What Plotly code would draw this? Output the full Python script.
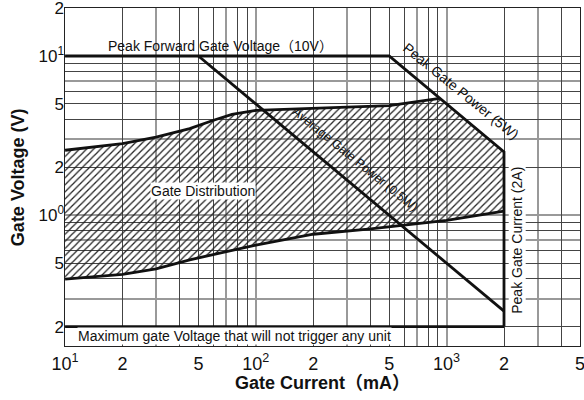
import plotly.graph_objects as go
import numpy as np

# ---- data (mA, V) ----
upper_i = [10, 20, 30, 45, 60, 75, 100, 200, 500, 920]
upper_v = [2.56, 2.82, 3.1, 3.5, 3.95, 4.3, 4.55, 4.7, 4.88, 5.42]
lower_i = [10, 20, 30, 45, 100, 200, 400, 600, 1000, 2000]
lower_v = [0.397, 0.426, 0.46, 0.525, 0.65, 0.76, 0.82, 0.87, 0.93, 1.06]

peak_fwd_v = 10.0        # V
peak_power_w = 5.0       # W
avg_power_w = 0.5        # W
peak_current_ma = 2000   # mA
max_nontrig_v = 0.2      # V
x_start = 10

x_tickvals = [10, 20, 50, 100, 200, 500, 1000, 2000, 5000]
x_ticktext = ["10<sup>1</sup>", "2", "5", "10<sup>2</sup>", "2", "5", "10<sup>3</sup>", "2", "5"]
y_tickvals = [0.2, 0.5, 1, 2, 5, 10, 20]
y_ticktext = ["2", "5", "10<sup>0</sup>", "2", "5", "10<sup>1</sup>", "2"]

# gridline values
x_dark = [20, 40, 50, 60, 80, 90, 200, 400, 500, 600, 800, 900, 2000, 4000]
x_gray = [30, 70, 100, 300, 700, 1000, 3000]
y_dark = [0.2, 0.4, 0.5, 0.6, 0.8, 0.9, 2, 4, 5, 6, 8, 9, 10, 20]
y_gray = [0.3, 0.7, 1, 3, 7]

FONT = "Liberation Sans, Arial, Noto Sans CJK JP"
XR = [0.9995, np.log10(5000) + 0.0005]
YR = [-0.821, 1.3015]

fig = go.Figure()

# Gate distribution region (hatched)
poly_i = upper_i + [peak_current_ma, peak_current_ma] + lower_i[::-1] + [x_start]
poly_v = upper_v + [peak_power_w / (peak_current_ma / 1000), lower_v[-1]] + lower_v[::-1] + [upper_v[0]]
fig.add_trace(go.Scatter(
    x=poly_i, y=poly_v, mode="lines", fill="toself",
    line=dict(width=0), fillcolor="rgba(0,0,0,0)",
    fillpattern=dict(shape="/", size=5, solidity=0.25, fgcolor="#222",
                     bgcolor="rgba(255,255,255,0)", fillmode="replace"),
    hoverinfo="skip", showlegend=False))

LW = 2.8
blk = dict(color="#111", width=LW)
fig.add_trace(go.Scatter(x=upper_i, y=upper_v, mode="lines", line=blk, showlegend=False))
fig.add_trace(go.Scatter(x=lower_i, y=lower_v, mode="lines", line=blk, showlegend=False))

i_pf_end = peak_power_w / peak_fwd_v * 1000
fig.add_trace(go.Scatter(
    x=[x_start, i_pf_end, peak_current_ma, peak_current_ma],
    y=[peak_fwd_v, peak_fwd_v, peak_power_w / (peak_current_ma / 1000), max_nontrig_v],
    mode="lines", line=blk, showlegend=False))
fig.add_trace(go.Scatter(x=[x_start, peak_current_ma], y=[max_nontrig_v, max_nontrig_v],
                         mode="lines", line=blk, showlegend=False))
i_avg = [avg_power_w / peak_fwd_v * 1000, peak_current_ma]
fig.add_trace(go.Scatter(x=i_avg, y=[avg_power_w / (i / 1000) for i in i_avg],
                         mode="lines", line=blk, showlegend=False))

ann = []
def A(text, x, y, angle=0, xanchor="center", bg=None, size=14):
    d = dict(text=text, x=x, y=y, xref="x", yref="y", showarrow=False,
             textangle=angle, xanchor=xanchor, yanchor="middle",
             font=dict(family=FONT, size=size, color="#111"))
    if bg:
        d["bgcolor"] = bg
        d["borderpad"] = 0
    ann.append(d)

A("Peak Forward Gate Voltage（10V）", 1.215, 1.062, xanchor="left")
A("Peak Gate Power (5W)", 3.075, 0.780, angle=39)
A("Average Gate Power (0.5W)", 2.525, 0.350, angle=39, size=12.5)
A("Gate Distribution", 1.723, 0.154, bg="white")
A("Peak Gate Current (2A)", 3.369, -0.154, angle=-90, bg="white")
A("Maximum gate Voltage that will not trigger any unit", 1.063, -0.759, xanchor="left", bg="white")

ann.append(dict(text="<b>Gate Voltage (V)</b>", xref="paper", yref="paper", x=-0.091, y=0.50,
                xanchor="center", yanchor="middle",
                textangle=-90, showarrow=False, font=dict(family=FONT, size=18, color="#111")))
ann.append(dict(text="<b>Gate Current（mA）</b>", xref="paper", yref="paper", x=0.50, y=-0.108,
                xanchor="center", yanchor="middle", showarrow=False,
                font=dict(family=FONT, size=18, color="#111")))

fig.update_layout(
    width=584, height=400,
    margin=dict(l=65, r=4, t=8, b=54, autoexpand=False),
    paper_bgcolor="white", plot_bgcolor="white",
    annotations=ann,
    font=dict(family=FONT, size=16, color="#111"),
)
fig.update_xaxes(
    type="log", range=XR, automargin=False,
    tickvals=x_dark, ticktext=[""] * len(x_dark), showgrid=True, gridcolor="#444", gridwidth=1,
    minor=dict(tickvals=x_gray, showgrid=True, gridcolor="#999", gridwidth=1.5, ticks=""),
    showline=True, linecolor="#222", linewidth=1.2, mirror=True, ticks="", zeroline=False,
)
fig.update_yaxes(
    type="log", range=YR, automargin=False,
    tickvals=y_dark, ticktext=[""] * len(y_dark), showgrid=True, gridcolor="#444", gridwidth=1,
    minor=dict(tickvals=y_gray, showgrid=True, gridcolor="#999", gridwidth=1.5, ticks=""),
    showline=True, linecolor="#222", linewidth=1.2, mirror=True, ticks="", zeroline=False,
)
fig.update_layout(
    xaxis2=dict(type="log", range=XR, overlaying="x", side="bottom", automargin=False,
                tickvals=x_tickvals, ticktext=x_ticktext, showgrid=False, ticks="",
                tickfont=dict(size=18), anchor="y", ticklabelstandoff=5,
                ticklabeloverflow="allow"),
    yaxis2=dict(type="log", range=YR, overlaying="y", side="left", automargin=False,
                tickvals=y_tickvals, ticktext=y_ticktext, showgrid=False, ticks="",
                tickfont=dict(size=17), anchor="x", ticklabeloverflow="allow"),
)
fig.add_trace(go.Scatter(x=[10], y=[1], xaxis="x2", yaxis="y2", mode="markers",
                         marker=dict(opacity=0), hoverinfo="skip", showlegend=False))

fig.write_html("out.html", config={"displayModeBar": False},
               post_script="document.body.style.margin='0';document.body.style.padding='0';")
